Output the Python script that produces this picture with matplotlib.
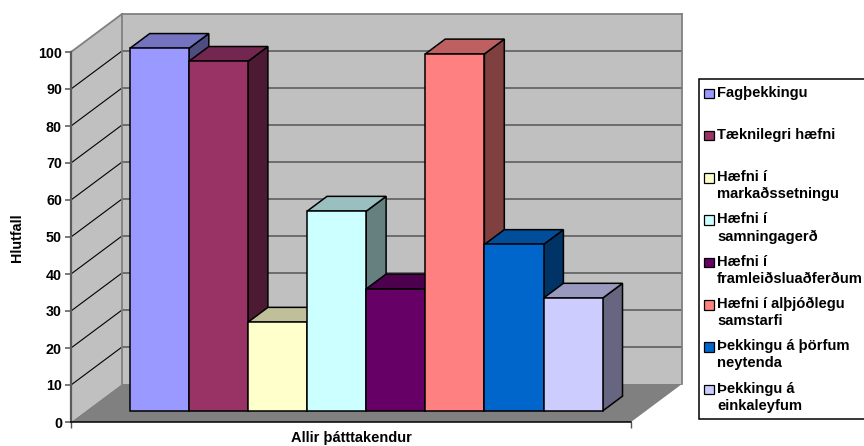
import matplotlib
matplotlib.use("Agg")
import matplotlib.pyplot as plt
from matplotlib.patches import Polygon, Rectangle

plt.rcParams['font.family'] = ['Liberation Sans', 'DejaVu Sans']
plt.rcParams['font.weight'] = 'bold'

### DATA ###
labels = ["Fagþekkingu", "Tæknilegri hæfni", "Hæfni í\nmarkaðssetningu", "Hæfni í\nsamningagerð",
          "Hæfni í\nframleiðsluaðferðum", "Hæfni í alþjóðlegu\nsamstarfi", "Þekkingu á þörfum\nneytenda",
          "Þekkingu á\neinkaleyfum"]
values = [98, 94.5, 24, 54, 33, 96.5, 45, 30.5]
colors = ["#9999FF", "#993366", "#FFFFCC", "#CCFFFF", "#660066", "#FF8080", "#0066CC", "#CCCCFF"]
tops   = ["#7373BF", "#732650", "#BFBF99", "#99BFBF", "#4D004D", "#BF6060", "#004D99", "#9999BF"]
sides  = ["#4D4D80", "#4D1A33", "#808066", "#668080", "#330033", "#804040", "#003366", "#666680"]
category = "Allir þátttakendur"
yticks = list(range(0, 101, 10))

### GEOMETRY ###
W, H = 864, 446
xmax = 560 / 59.1
DX, DY = 51 / 59.1, 38 / 3.7  # full depth of the box, in data units
gap = 0.745
bar_z, bar_d = 0.29, 0.39     # where the bars sit in the depth, and how deep they are


def proj(x, v, d):
    return x + d * DX, v + d * DY


def poly(ax, pts, fc, ec='none', lw=0, z=1):
    ax.add_patch(Polygon([proj(*p) for p in pts], closed=True, facecolor=fc, edgecolor=ec,
                         linewidth=lw, clip_on=False, zorder=z, joinstyle='miter'))


fig = plt.figure(figsize=(W / 100, H / 100), dpi=100)
ax = fig.add_axes([71 / W, 1 - 422 / H, 560 / W, 370 / H])
ax.set_xlim(0, xmax)
ax.set_ylim(0, 100)
ax.patch.set_visible(False)

# walls and floor
poly(ax, [(0, 0, 0), (0, 0, 1), (0, 100, 1), (0, 100, 0)], "#C0C0C0", z=1)
poly(ax, [(0, 0, 1), (xmax, 0, 1), (xmax, 100, 1), (0, 100, 1)], "#C0C0C0", z=1)
poly(ax, [(0, 0, 0), (xmax, 0, 0), (xmax, 0, 1), (0, 0, 1)], "#808080", z=1)

for t in yticks[1:-1]:
    x0, y0 = proj(0, t, 1)
    x1, y1 = proj(xmax, t, 1)
    ax.plot([x0, x1], [y0, y1], color="#555555", lw=1.1, clip_on=False, zorder=2)
    xs, ys = proj(0, t, 0)
    ax.plot([xs, x0], [ys, y0], color="black", lw=0.8, clip_on=False, zorder=2)

# outline of the box
for a, b in [((0, 0, 1), (0, 100, 1)), ((0, 100, 1), (xmax, 100, 1)), ((xmax, 100, 1), (xmax, 0, 1)),
             ((0, 100, 0), (0, 100, 1))]:
    (x0, y0), (x1, y1) = proj(*a), proj(*b)
    ax.plot([x0, x1], [y0, y1], color="#808080", lw=1.3, clip_on=False, zorder=2)

# bars, left to right so that each covers the side of the previous one
for i, v in enumerate(values):
    l, r = gap + i, gap + i + 1
    d0, d1 = bar_z, bar_z + bar_d
    poly(ax, [(r, 0, d0), (r, 0, d1), (r, v, d1), (r, v, d0)], sides[i], 'black', 1.1, 3 + i * 0.1)
    poly(ax, [(l, v, d0), (r, v, d0), (r, v, d1), (l, v, d1)], tops[i], 'black', 1.1, 3 + i * 0.1)
    poly(ax, [(l, 0, d0), (r, 0, d0), (r, v, d0), (l, v, d0)], colors[i], 'black', 1.1, 3 + i * 0.1 + 0.01)

# axes
for s in ['top', 'right']:
    ax.spines[s].set_visible(False)
ax.spines['left'].set_color("#5A5A5A")
ax.spines['left'].set_linewidth(1.6)
ax.spines['bottom'].set_color("black")
ax.spines['bottom'].set_linewidth(1.1)
ax.spines['bottom'].set_zorder(5)
ax.set_yticks(yticks)
ax.tick_params(axis='y', length=4.5, width=1.1, color="#555555", labelsize=10.3, pad=2)
ax.set_xticks([0, xmax])
ax.set_xticklabels(["", ""])
ax.tick_params(axis='x', length=4.5, width=1, color="#555555")
ax.set_xlabel(category, fontsize=10.5, fontweight='bold')
ax.xaxis.set_label_coords(0.5, -0.024, transform=ax.transAxes)
ax.xaxis.label.set_va('top')
fig.text(17 / W, 1 - 238 / H, "Hlutfall", rotation=90, fontsize=10.3, fontweight='bold', ha='center', va='center')

# legend
lax = fig.add_axes([699 / W, 1 - 419 / H, 170 / W, 340 / H])
lax.set_xlim(0, 170)
lax.set_ylim(340, 0)
lax.axis('off')
lax.add_patch(Rectangle((0, 0), 175, 340, facecolor='white', edgecolor='black', linewidth=1.1, clip_on=False))
for i, (name, c) in enumerate(zip(labels, colors)):
    y = 14 + i * 42.3
    lax.add_patch(Rectangle((5, y - 4.5), 9.5, 9.5, facecolor=c, edgecolor='black', linewidth=0.9))
    lax.text(18, y - 7.5, name, fontsize=10.6, fontweight='bold', va='top', ha='left', linespacing=1.27)

plt.savefig("out.png", dpi=100)
